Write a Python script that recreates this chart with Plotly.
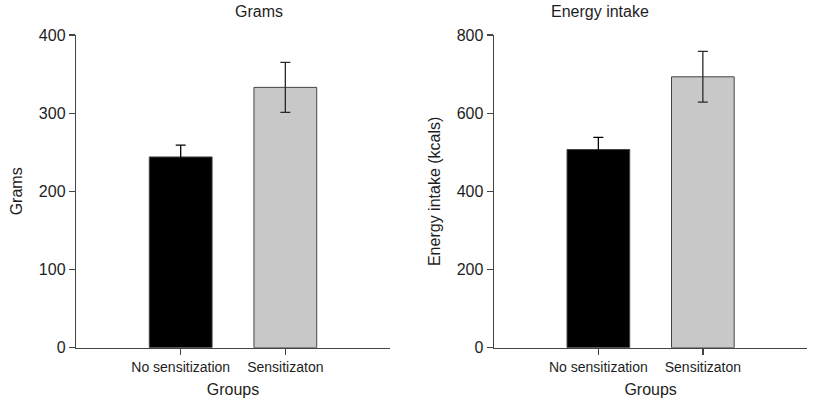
import plotly.graph_objects as go

groups = ["No sensitization", "Sensitizaton"]
grams_mean = [244, 333]
grams_err = [15, 32]
energy_mean = [507, 693]
energy_err = [31, 65]
bar_colors = ["#000000", "#c8c8c8"]
err_colors = ["#000000", "#2a2a2a"]

FONT = "Liberation Sans, Arial, sans-serif"
TXT = "#1e1e1e"
AX = "#444444"

fig = go.Figure()
for i, g in enumerate(groups):
    fig.add_trace(go.Bar(
        x=[g], y=[grams_mean[i]], xaxis="x", yaxis="y", width=0.6,
        marker=dict(color=bar_colors[i], line=dict(color=AX, width=1)),
        error_y=dict(type="data", array=[grams_err[i]], visible=True, color=err_colors[i],
                     thickness=1.3, width=5),
        showlegend=False))
    fig.add_trace(go.Bar(
        x=[g], y=[energy_mean[i]], xaxis="x2", yaxis="y2", width=0.6,
        marker=dict(color=bar_colors[i], line=dict(color=AX, width=1)),
        error_y=dict(type="data", array=[energy_err[i]], visible=True, color=err_colors[i],
                     thickness=1.3, width=5),
        showlegend=False))

xcommon = dict(type="category", categoryorder="array", categoryarray=groups,
               range=[-1, 2], showgrid=False, zeroline=False, automargin=False,
               showline=True, linecolor=AX, linewidth=1.3, ticks="outside", ticklen=6,
               tickcolor=AX, tickwidth=1.3,
               tickfont=dict(family=FONT, size=14, color=TXT),
               title=dict(text="Groups", font=dict(family=FONT, size=16, color=TXT), standoff=10))
ycommon = dict(showgrid=False, zeroline=False, showline=True, linecolor=AX, linewidth=1.3,
               automargin=False,
               ticks="outside", ticklen=6, tickcolor=AX, tickwidth=1.3,
               tickfont=dict(family=FONT, size=16, color=TXT))

fig.update_layout(
    width=815, height=402,
    barmode="overlay",
    margin=dict(l=0, r=0, t=0, b=0),
    paper_bgcolor="white", plot_bgcolor="white",
    font=dict(family=FONT, color=TXT),
    xaxis=dict(domain=[0.0933, 0.4785], anchor="y", **xcommon),
    xaxis2=dict(domain=[0.606, 0.9906], anchor="y2", **xcommon),
    yaxis=dict(domain=[0.135, 0.913], anchor="x", range=[0, 400], dtick=100,
               title=dict(text="Grams", font=dict(family=FONT, size=16, color=TXT), standoff=12),
               **ycommon),
    yaxis2=dict(domain=[0.135, 0.913], anchor="x2", range=[0, 800], dtick=200,
                title=dict(text="Energy intake (kcals)", font=dict(family=FONT, size=16, color=TXT), standoff=12),
                **ycommon),
    annotations=[
        dict(text="Grams", x=(0.0933 + 0.4785) / 2, y=1 - 12 / 402, xref="paper", yref="paper",
             showarrow=False, font=dict(family=FONT, size=16, color=TXT), yanchor="middle"),
        dict(text="Energy intake", x=(0.606 + 0.9906) / 2, y=1 - 12 / 402, xref="paper", yref="paper",
             showarrow=False, font=dict(family=FONT, size=16, color=TXT), yanchor="middle"),
    ],
)

fig.write_html("out.html", config={"displayModeBar": False, "staticPlot": True},
               post_script="document.body.style.margin='0';document.body.style.overflow='hidden';")
